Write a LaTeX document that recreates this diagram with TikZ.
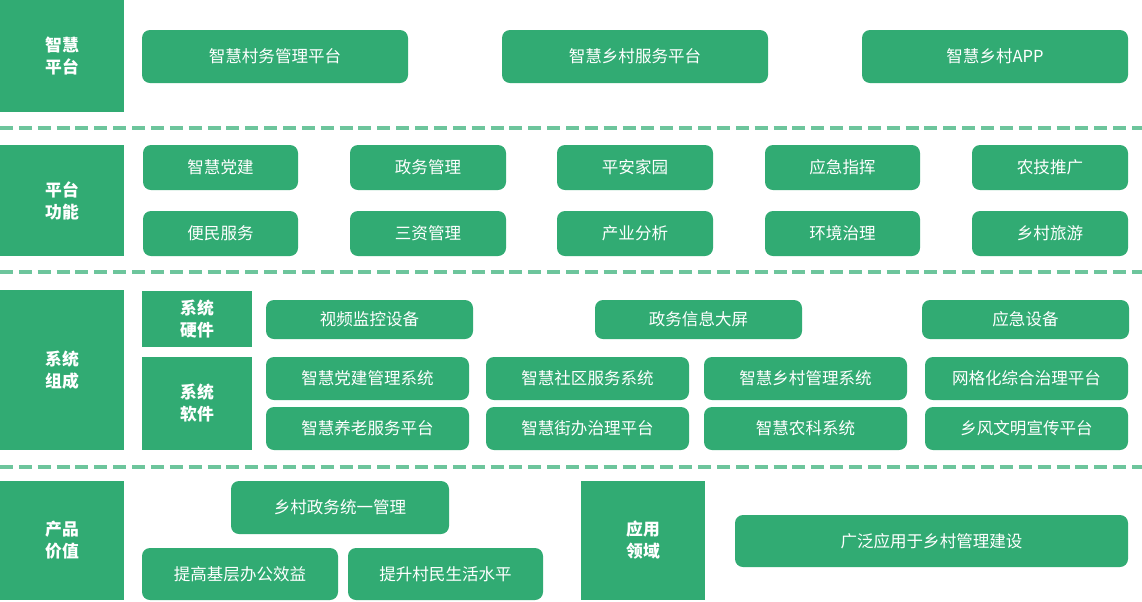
\documentclass[tikz,border=0pt]{standalone}
\usepackage{fontspec}
\setmainfont{Noto Sans CJK SC}
\definecolor{gr}{HTML}{31AB73}
\definecolor{grl}{HTML}{6DC59C}
\tikzset{
  hdr/.style={fill=gr,draw=none,inner sep=0,outer sep=0,text=white,align=center,font=\fontsize{12.6}{16.5}\selectfont\bfseries},
  rbox/.style={fill=gr,draw=none,rounded corners=6pt,inner sep=0,outer sep=0,text=white,align=center,font=\fontsize{12.4}{15}\selectfont},
  sep/.style={grl,line width=3pt,dash pattern=on 9.75pt off 4.4pt}
}
\newcommand\mybox[7]{%
  \pgfmathsetmacro\cx{(#3+#5)/2}\pgfmathsetmacro\cy{(#4+#6)/2}%
  \pgfmathsetmacro\ww{(#5-#3)*0.75}\pgfmathsetmacro\hh{(#6-#4)*0.75}%
  \node[#1,minimum width=\ww pt,minimum height=\hh pt] (#2) at (\cx,\cy) {#7};}
\begin{document}
\begin{tikzpicture}[x=0.75pt,y=-0.75pt]
\useasboundingbox (0,0) rectangle (1142,601);
% separators
\coordinate (s1a) at (0,128); \coordinate (s1b) at (1142,128);
\coordinate (s2a) at (0,272); \coordinate (s2b) at (1142,272);
\coordinate (s3a) at (0,467); \coordinate (s3b) at (1142,467);
\draw[sep] (s1a) -- (s1b);
\draw[sep] (s2a) -- (s2b);
\draw[sep] (s3a) -- (s3b);
% section 1
\mybox{hdr}{h1}{0}{0}{124}{112}{智慧\\平台}
\mybox{rbox}{p1}{142}{30}{408}{83}{智慧村务管理平台}
\mybox{rbox}{p2}{502}{30}{768}{83}{智慧乡村服务平台}
\mybox{rbox}{p3}{862}{30}{1128}{83}{智慧乡村APP}
% section 2
\mybox{hdr}{h2}{0}{145}{124}{256}{平台\\功能}
\mybox{rbox}{f1}{143}{145}{298}{190}{智慧党建}
\mybox{rbox}{f2}{350}{145}{506}{190}{政务管理}
\mybox{rbox}{f3}{557}{145}{713}{190}{平安家园}
\mybox{rbox}{f4}{765}{145}{920}{190}{应急指挥}
\mybox{rbox}{f5}{972}{145}{1128}{190}{农技推广}
\mybox{rbox}{f6}{143}{211}{298}{256}{便民服务}
\mybox{rbox}{f7}{350}{211}{506}{256}{三资管理}
\mybox{rbox}{f8}{557}{211}{713}{256}{产业分析}
\mybox{rbox}{f9}{765}{211}{920}{256}{环境治理}
\mybox{rbox}{f10}{972}{211}{1128}{256}{乡村旅游}
% section 3
\mybox{hdr}{h3}{0}{290}{124}{450}{系统\\组成}
\mybox{hdr}{h3a}{142}{291}{252}{347}{系统\\硬件}
\mybox{hdr}{h3b}{142}{357}{252}{450}{系统\\软件}
\mybox{rbox}{w1}{266}{300}{473}{339}{视频监控设备}
\mybox{rbox}{w2}{595}{300}{802}{339}{政务信息大屏}
\mybox{rbox}{w3}{922}{300}{1129}{339}{应急设备}
\mybox{rbox}{s1}{266}{357}{469}{400}{智慧党建管理系统}
\mybox{rbox}{s2}{486}{357}{689}{400}{智慧社区服务系统}
\mybox{rbox}{s3}{704}{357}{907}{400}{智慧乡村管理系统}
\mybox{rbox}{s4}{925}{357}{1128}{400}{网格化综合治理平台}
\mybox{rbox}{s5}{266}{407}{469}{450}{智慧养老服务平台}
\mybox{rbox}{s6}{486}{407}{689}{450}{智慧街办治理平台}
\mybox{rbox}{s7}{704}{407}{907}{450}{智慧农科系统}
\mybox{rbox}{s8}{925}{407}{1128}{450}{乡风文明宣传平台}
% section 4
\mybox{hdr}{h4}{0}{481}{124}{600}{产品\\价值}
\mybox{rbox}{v1}{231}{481}{449}{534}{乡村政务统一管理}
\mybox{rbox}{v2}{142}{548}{338}{600}{提高基层办公效益}
\mybox{rbox}{v3}{348}{548}{543}{600}{提升村民生活水平}
\mybox{hdr}{h5}{581}{481}{705}{600}{应用\\领域}
\mybox{rbox}{a1}{735}{515}{1128}{567}{广泛应用于乡村管理建设}
\end{tikzpicture}
\end{document}
